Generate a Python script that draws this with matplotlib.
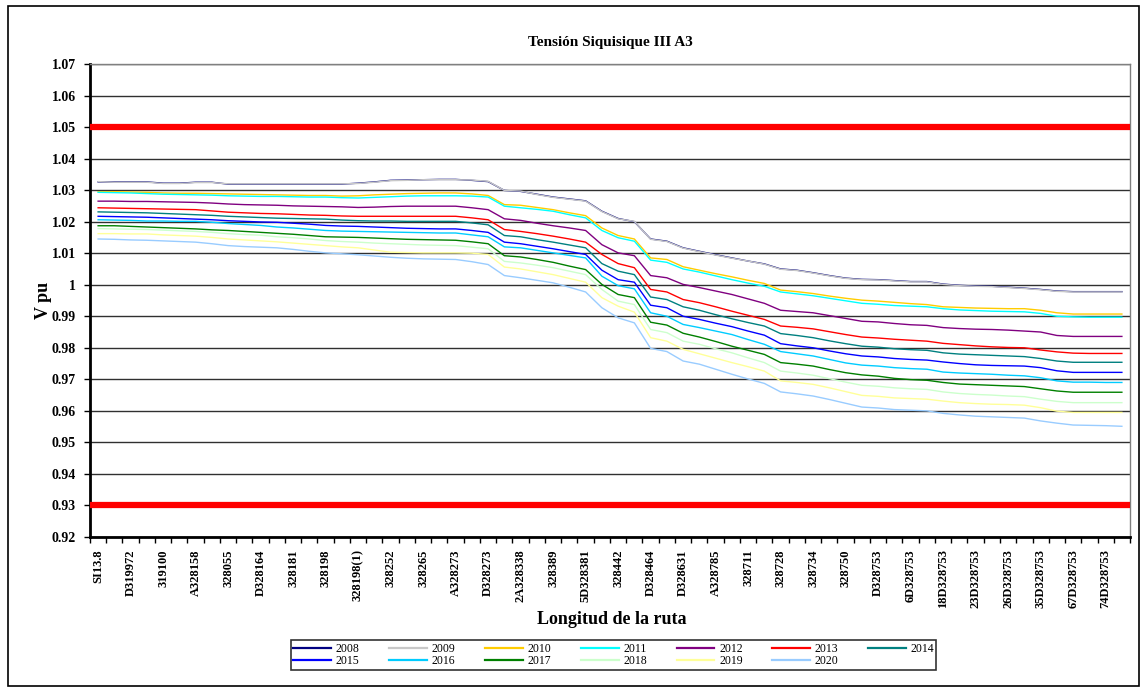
import numpy as np
import matplotlib
matplotlib.use("Agg")
import matplotlib.pyplot as plt
from matplotlib.patches import Rectangle

# nodos de la ruta (etiqueta cada 2 nodos, 64 nodos en total)
etiquetas = ["SI13.8", "D319972", "319100", "A328158", "328055", "D328164", "328181", "328198",
             "328198(1)", "328252", "328265", "A328273", "D328273", "2A328338", "328389", "5D328381",
             "328442", "D328464", "D328631", "A328785", "328711", "328728", "328734", "328750",
             "D328753", "6D328753", "18D328753", "23D328753", "26D328753", "35D328753", "67D328753", "74D328753"]
n_nodos = 64

anios = ["2008", "2009", "2010", "2011", "2012", "2013", "2014",
         "2015", "2016", "2017", "2018", "2019", "2020"]
colores = ["#000080", "#C8C8C8", "#FFCC00", "#00FFFF", "#800080", "#FF0000", "#008080",
           "#0000FF", "#00CCFF", "#008000", "#CCFFCC", "#FFFF99", "#99CCFF"]

limites = [1.05, 0.93]

v2008 = [1.0326, 1.0326, 1.0326, 1.0326, 1.0322, 1.0322, 1.0325, 1.0325, 1.0319, 1.0319,
         1.0319, 1.0319, 1.0319, 1.0319, 1.0319, 1.0319, 1.0322, 1.0326, 1.0331, 1.0332,
         1.0333, 1.0334, 1.0334, 1.0331, 1.0327, 1.0299, 1.0296, 1.0287, 1.0278, 1.0272,
         1.0266, 1.0233, 1.0210, 1.0200, 1.0145, 1.0138, 1.0117, 1.0106, 1.0095, 1.0085,
         1.0075, 1.0066, 1.0050, 1.0046, 1.0038, 1.0029, 1.0021, 1.0017, 1.0016, 1.0013,
         1.0010, 1.0010, 1.0002, 0.9998, 0.9996, 0.9995, 0.9992, 0.9989, 0.9985, 0.9980,
         0.9978, 0.9978, 0.9978, 0.9978]
v2009 = [1.0327, 1.0325, 1.0325, 1.0325, 1.0321, 1.0321, 1.0324, 1.0324, 1.0320, 1.0320,
         1.0320, 1.0320, 1.0320, 1.0320, 1.0320, 1.0320, 1.0321, 1.0325, 1.0330, 1.0331,
         1.0333, 1.0333, 1.0333, 1.0332, 1.0328, 1.0299, 1.0297, 1.0286, 1.0277, 1.0271,
         1.0265, 1.0232, 1.0209, 1.0201, 1.0144, 1.0137, 1.0116, 1.0105, 1.0094, 1.0084,
         1.0075, 1.0065, 1.0049, 1.0045, 1.0037, 1.0028, 1.0020, 1.0016, 1.0015, 1.0012,
         1.0009, 1.0009, 1.0001, 0.9997, 0.9995, 0.9994, 0.9991, 0.9988, 0.9984, 0.9979,
         0.9977, 0.9977, 0.9977, 0.9977]
v2010 = [1.0295, 1.0295, 1.0294, 1.0293, 1.0291, 1.0290, 1.0290, 1.0289, 1.0288, 1.0287,
         1.0286, 1.0285, 1.0284, 1.0283, 1.0283, 1.0281, 1.0282, 1.0285, 1.0287, 1.0289,
         1.0290, 1.0291, 1.0291, 1.0288, 1.0283, 1.0254, 1.0252, 1.0245, 1.0238, 1.0228,
         1.0219, 1.0180, 1.0156, 1.0145, 1.0085, 1.0080, 1.0057, 1.0046, 1.0035, 1.0025,
         1.0014, 1.0004, 0.9983, 0.9978, 0.9972, 0.9964, 0.9957, 0.9951, 0.9948, 0.9944,
         0.9940, 0.9937, 0.9930, 0.9928, 0.9926, 0.9925, 0.9924, 0.9924, 0.9919, 0.9911,
         0.9907, 0.9907, 0.9907, 0.9907]
v2011 = [1.0293, 1.0292, 1.0291, 1.0289, 1.0287, 1.0286, 1.0285, 1.0284, 1.0282, 1.0281,
         1.0280, 1.0280, 1.0279, 1.0278, 1.0278, 1.0276, 1.0275, 1.0277, 1.0279, 1.0281,
         1.0282, 1.0282, 1.0282, 1.0281, 1.0278, 1.0249, 1.0244, 1.0239, 1.0233, 1.0222,
         1.0212, 1.0172, 1.0149, 1.0138, 1.0078, 1.0071, 1.0050, 1.0040, 1.0028, 1.0016,
         1.0005, 0.9995, 0.9977, 0.9971, 0.9965, 0.9957, 0.9949, 0.9941, 0.9938, 0.9934,
         0.9932, 0.9930, 0.9924, 0.9920, 0.9918, 0.9916, 0.9915, 0.9914, 0.9909, 0.9900,
         0.9898, 0.9897, 0.9897, 0.9897]
v2012 = [1.0265, 1.0265, 1.0264, 1.0264, 1.0263, 1.0262, 1.0261, 1.0259, 1.0256, 1.0254,
         1.0253, 1.0252, 1.0250, 1.0249, 1.0248, 1.0247, 1.0245, 1.0246, 1.0248, 1.0249,
         1.0249, 1.0249, 1.0249, 1.0244, 1.0238, 1.0209, 1.0204, 1.0195, 1.0187, 1.0180,
         1.0172, 1.0127, 1.0101, 1.0092, 1.0029, 1.0022, 1.0001, 0.9991, 0.9980, 0.9969,
         0.9955, 0.9941, 0.9919, 0.9915, 0.9911, 0.9902, 0.9893, 0.9884, 0.9882, 0.9877,
         0.9873, 0.9871, 0.9864, 0.9861, 0.9859, 0.9858, 0.9856, 0.9853, 0.9850, 0.9839,
         0.9836, 0.9836, 0.9836, 0.9836]
v2013 = [1.0244, 1.0243, 1.0242, 1.0241, 1.0240, 1.0239, 1.0238, 1.0234, 1.0230, 1.0228,
         1.0226, 1.0225, 1.0223, 1.0221, 1.0220, 1.0218, 1.0217, 1.0217, 1.0217, 1.0217,
         1.0217, 1.0217, 1.0217, 1.0212, 1.0206, 1.0175, 1.0169, 1.0162, 1.0154, 1.0145,
         1.0135, 1.0096, 1.0067, 1.0054, 0.9985, 0.9977, 0.9953, 0.9943, 0.9930, 0.9916,
         0.9903, 0.9890, 0.9869, 0.9865, 0.9860, 0.9851, 0.9842, 0.9834, 0.9831, 0.9827,
         0.9824, 0.9821, 0.9814, 0.9810, 0.9806, 0.9803, 0.9801, 0.9800, 0.9793, 0.9787,
         0.9783, 0.9782, 0.9782, 0.9782]
v2014 = [1.0231, 1.0230, 1.0229, 1.0228, 1.0226, 1.0224, 1.0222, 1.0220, 1.0217, 1.0215,
         1.0213, 1.0211, 1.0210, 1.0209, 1.0208, 1.0205, 1.0203, 1.0202, 1.0202, 1.0201,
         1.0201, 1.0201, 1.0201, 1.0196, 1.0190, 1.0156, 1.0152, 1.0143, 1.0135, 1.0126,
         1.0117, 1.0067, 1.0043, 1.0032, 0.9961, 0.9953, 0.9930, 0.9919, 0.9905, 0.9892,
         0.9880, 0.9869, 0.9845, 0.9839, 0.9832, 0.9822, 0.9813, 0.9805, 0.9802, 0.9797,
         0.9794, 0.9792, 0.9784, 0.9780, 0.9778, 0.9776, 0.9774, 0.9772, 0.9766, 0.9758,
         0.9754, 0.9754, 0.9754, 0.9754]
v2015 = [1.0217, 1.0216, 1.0215, 1.0214, 1.0212, 1.0210, 1.0208, 1.0206, 1.0203, 1.0201,
         1.0199, 1.0198, 1.0195, 1.0192, 1.0188, 1.0186, 1.0185, 1.0183, 1.0181, 1.0179,
         1.0178, 1.0177, 1.0177, 1.0172, 1.0166, 1.0135, 1.0130, 1.0122, 1.0114, 1.0105,
         1.0096, 1.0046, 1.0016, 1.0008, 0.9935, 0.9927, 0.9900, 0.9890, 0.9878, 0.9867,
         0.9853, 0.9840, 0.9813, 0.9806, 0.9800, 0.9790, 0.9781, 0.9774, 0.9771, 0.9766,
         0.9763, 0.9761, 0.9755, 0.9750, 0.9746, 0.9744, 0.9743, 0.9742, 0.9737, 0.9727,
         0.9722, 0.9722, 0.9722, 0.9722]
v2016 = [1.0206, 1.0205, 1.0204, 1.0202, 1.0202, 1.0201, 1.0201, 1.0198, 1.0194, 1.0191,
         1.0188, 1.0183, 1.0180, 1.0176, 1.0172, 1.0170, 1.0169, 1.0168, 1.0167, 1.0166,
         1.0165, 1.0164, 1.0164, 1.0158, 1.0152, 1.0120, 1.0117, 1.0109, 1.0101, 1.0093,
         1.0085, 1.0027, 0.9997, 0.9987, 0.9911, 0.9900, 0.9874, 0.9864, 0.9853, 0.9842,
         0.9826, 0.9811, 0.9788, 0.9781, 0.9774, 0.9763, 0.9752, 0.9745, 0.9742, 0.9737,
         0.9734, 0.9732, 0.9723, 0.9720, 0.9718, 0.9716, 0.9713, 0.9711, 0.9705, 0.9695,
         0.9691, 0.9691, 0.9690, 0.9690]
v2017 = [1.0187, 1.0187, 1.0185, 1.0183, 1.0181, 1.0179, 1.0177, 1.0174, 1.0172, 1.0169,
         1.0166, 1.0163, 1.0160, 1.0156, 1.0152, 1.0151, 1.0150, 1.0148, 1.0146, 1.0144,
         1.0143, 1.0142, 1.0141, 1.0136, 1.0130, 1.0092, 1.0088, 1.0080, 1.0071, 1.0059,
         1.0048, 1.0001, 0.9969, 0.9959, 0.9881, 0.9872, 0.9846, 0.9834, 0.9820, 0.9805,
         0.9792, 0.9779, 0.9753, 0.9748, 0.9742, 0.9731, 0.9721, 0.9714, 0.9710, 0.9703,
         0.9699, 0.9697, 0.9690, 0.9685, 0.9683, 0.9681, 0.9679, 0.9677, 0.9670, 0.9663,
         0.9659, 0.9659, 0.9659, 0.9659]
v2018 = [1.0178, 1.0177, 1.0176, 1.0175, 1.0173, 1.0171, 1.0169, 1.0166, 1.0162, 1.0159,
         1.0157, 1.0152, 1.0149, 1.0145, 1.0140, 1.0137, 1.0135, 1.0132, 1.0130, 1.0128,
         1.0126, 1.0125, 1.0124, 1.0119, 1.0114, 1.0074, 1.0069, 1.0062, 1.0054, 1.0043,
         1.0032, 0.9985, 0.9948, 0.9937, 0.9858, 0.9848, 0.9821, 0.9811, 0.9797, 0.9784,
         0.9768, 0.9753, 0.9726, 0.9720, 0.9713, 0.9702, 0.9691, 0.9681, 0.9678, 0.9673,
         0.9670, 0.9668, 0.9660, 0.9655, 0.9652, 0.9650, 0.9647, 0.9645, 0.9637, 0.9630,
         0.9626, 0.9626, 0.9626, 0.9626]
v2019 = [1.0162, 1.0162, 1.0161, 1.0161, 1.0158, 1.0156, 1.0154, 1.0150, 1.0145, 1.0142,
         1.0139, 1.0136, 1.0132, 1.0128, 1.0124, 1.0120, 1.0117, 1.0110, 1.0103, 1.0102,
         1.0101, 1.0101, 1.0101, 1.0100, 1.0096, 1.0056, 1.0050, 1.0041, 1.0032, 1.0020,
         1.0008, 0.9959, 0.9932, 0.9913, 0.9832, 0.9821, 0.9795, 0.9781, 0.9767, 0.9753,
         0.9740, 0.9726, 0.9695, 0.9690, 0.9684, 0.9673, 0.9661, 0.9649, 0.9646, 0.9641,
         0.9639, 0.9637, 0.9631, 0.9626, 0.9623, 0.9621, 0.9620, 0.9618, 0.9610, 0.9599,
         0.9595, 0.9595, 0.9595, 0.9595]
v2020 = [1.0145, 1.0144, 1.0142, 1.0141, 1.0139, 1.0137, 1.0135, 1.0130, 1.0124, 1.0121,
         1.0119, 1.0117, 1.0112, 1.0106, 1.0101, 1.0098, 1.0095, 1.0091, 1.0087, 1.0084,
         1.0082, 1.0081, 1.0080, 1.0073, 1.0064, 1.0029, 1.0022, 1.0014, 1.0006, 0.9992,
         0.9977, 0.9927, 0.9895, 0.9879, 0.9798, 0.9788, 0.9758, 0.9748, 0.9732, 0.9716,
         0.9701, 0.9687, 0.9660, 0.9654, 0.9647, 0.9636, 0.9624, 0.9612, 0.9609, 0.9604,
         0.9602, 0.9600, 0.9592, 0.9587, 0.9583, 0.9581, 0.9579, 0.9577, 0.9568, 0.9561,
         0.9555, 0.9554, 0.9553, 0.9551]

series = [v2008, v2009, v2010, v2011, v2012, v2013, v2014,
          v2015, v2016, v2017, v2018, v2019, v2020]

plt.rcParams['font.family'] = ['Liberation Serif', 'DejaVu Serif']

fig = plt.figure(figsize=(11.45, 6.91), dpi=100)
ax = fig.add_axes([0.0786, 0.2229, 0.9083, 0.6845])

x = np.arange(n_nodos)
lineas = []
for anio, col, v in zip(anios, colores, series):
    l, = ax.plot(x, v, color=col, linewidth=1.0, label=anio, zorder=3)
    lineas.append(l)

# limites de tension
for lim in limites:
    ax.axhline(lim, color='#FF0000', linewidth=4.5, zorder=4)

ax.set_xlim(-0.5, n_nodos - 0.5)
ax.set_ylim(0.92, 1.07)
yt = np.round(np.arange(0.92, 1.0701, 0.01), 2)
ax.set_yticks(yt)
ax.set_yticklabels([('%.2f' % t).rstrip('0').rstrip('.') for t in yt],
                   fontsize=10, fontweight='bold')
ax.yaxis.grid(True, color='#303030', linewidth=1.0, zorder=1)
ax.set_axisbelow(True)

ax.set_xticks(np.arange(0, n_nodos, 2))
ax.set_xticklabels(etiquetas, rotation=90, fontsize=9, fontweight='bold')
ax.set_xticks(np.arange(-0.5, n_nodos, 1), minor=True)
ax.tick_params(axis='x', which='major', length=0, pad=9)
ax.tick_params(axis='x', which='minor', length=4, width=1, direction='out')
ax.tick_params(axis='y', length=4, width=1, direction='out', pad=6)

for s in ['left', 'bottom']:
    ax.spines[s].set_linewidth(2)
    ax.spines[s].set_color('black')
for s in ['right', 'top']:
    ax.spines[s].set_linewidth(1)
    ax.spines[s].set_color('#808080')

ax.set_title('Tensión Siquisique III A3', fontsize=11, fontweight='bold', pad=13)
ax.set_ylabel('V pu', fontsize=13, fontweight='bold', labelpad=0)
fig.text(612 / 1145, 1 - 620 / 691, 'Longitud de la ruta', fontsize=13,
         fontweight='bold', ha='center', va='center')

# leyenda en dos filas (orden por filas)
orden = [0, 7, 1, 8, 2, 9, 3, 10, 4, 11, 5, 12, 6]
leg = fig.legend([lineas[i] for i in orden], [anios[i] for i in orden],
                 loc='center', bbox_to_anchor=(0.536, 0.052), ncol=7,
                 fontsize=8.5, handlelength=3.2, columnspacing=2.5, handletextpad=0.4,
                 labelspacing=0.05, borderpad=0.2, fancybox=False, frameon=True)
leg.get_frame().set_edgecolor('black')
leg.get_frame().set_linewidth(1.2)
for h in leg.get_lines():
    h.set_linewidth(1.6)

# borde exterior del grafico
fig.patches.append(Rectangle((8 / 1145, 5 / 691), 1131 / 1145, 680 / 691,
                             transform=fig.transFigure, fill=False,
                             edgecolor='black', linewidth=1.2))

fig.savefig('out.png', dpi=100)
